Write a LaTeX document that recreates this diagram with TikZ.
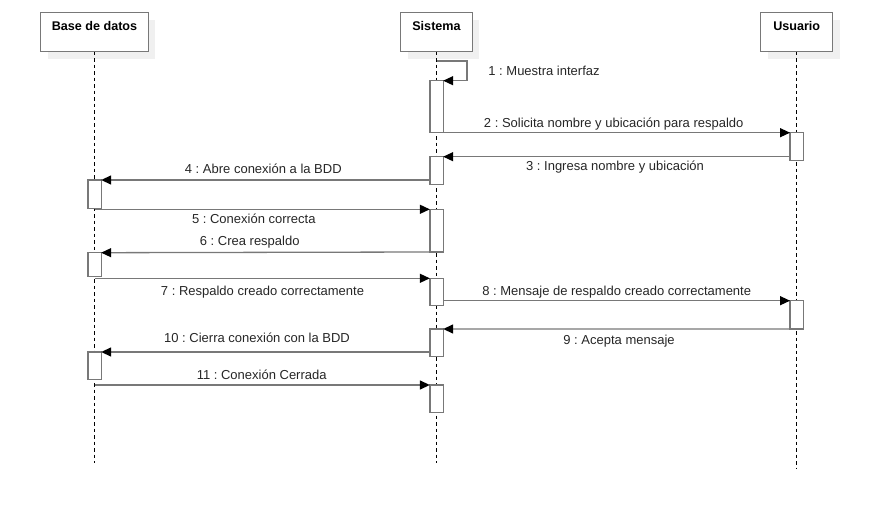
\documentclass[tikz,border=0pt]{standalone}
\usepackage{fontspec}
\setmainfont{Liberation Sans}
\usetikzlibrary{arrows.meta,shadows}
\definecolor{linegray}{RGB}{120,120,120}
\definecolor{shadegray}{RGB}{240,240,240}
\frenchspacing
\begin{document}
\begin{tikzpicture}[x=1pt,y=-1pt,
  font=\fontsize{13}{15}\selectfont,
  hdr/.style={draw=linegray, line width=1.3pt, fill=white, font=\fontsize{12.6}{14}\selectfont\bfseries,
    inner xsep=0pt, inner ysep=0pt, outer sep=0pt, text height=17.3pt, text depth=21.7pt,
    drop shadow={shadow xshift=7pt, shadow yshift=-7pt, fill=shadegray, draw=none, opacity=1}},
  life/.style={draw=black, line width=1pt, dash pattern=on 3.5pt off 3pt},
  bar/.style={draw=linegray, line width=1.3pt, fill=white, minimum width=13.3pt,
    inner sep=0pt, outer sep=0pt, anchor=north},
  msg/.style={draw=linegray, line width=1.3pt,
    -{Triangle[length=10pt,width=9pt,color=black,fill=black]}},
  lbl/.style={anchor=base, inner sep=0pt, text=black!85}
]
\useasboundingbox (0,0) rectangle (881,514);

% participants
\node[hdr, minimum width=107.6pt] (bdd) at (94.5,32.2) {Base de datos};
\node[hdr, minimum width=71.6pt]  (sis) at (436.5,32.2) {Sistema};
\node[hdr, minimum width=72pt]    (usr) at (796.7,32.2) {Usuario};

% lifelines
\coordinate (bddEnd) at (94.5,463.3);
\coordinate (sisEnd) at (436.5,463.3);
\coordinate (usrEnd) at (796.7,468.3);
\draw[life] (bdd) -- (bddEnd);
\draw[life] (sis) -- (sisEnd);
\draw[life] (usr) -- (usrEnd);

% activation bars: Sistema
\node[bar, minimum height=52pt]   (sA) at (436.5,80.7)  {};
\node[bar, minimum height=28pt]   (sB) at (436.5,156.7) {};
\node[bar, minimum height=42.7pt] (sC) at (436.5,209.3) {};
\node[bar, minimum height=27pt]   (sD) at (436.5,278.3) {};
\node[bar, minimum height=27.7pt] (sE) at (436.5,329)   {};
\node[bar, minimum height=27.7pt] (sF) at (436.5,385)   {};
% activation bars: Usuario
\node[bar, minimum height=28pt]   (uA) at (796.7,132.7) {};
\node[bar, minimum height=28.3pt] (uB) at (796.7,300.7) {};
% activation bars: Base de datos
\node[bar, minimum height=28.3pt] (dA) at (94.5,180)   {};
\node[bar, minimum height=24pt]   (dB) at (94.5,252.7) {};
\node[bar, minimum height=27.5pt] (dC) at (94.5,352)   {};

% messages
\coordinate (m1) at (436.5,61);
\draw[msg] (m1) -- ++(30.5,0) |- (sA.north east);
\draw[msg] (sA.south east) -- (uA.north west);
\draw[msg] (uA.west |- sB.north) -- (sB.north east);
\draw[msg] (sB.west |- dA.north) -- (dA.north east);
\coordinate (m5) at (94.5,209.3);
\draw[msg] (m5) -- (sC.north west);
\draw[msg] (sC.south west) -- (dB.north east);
\coordinate (m7) at (94.5,278.3);
\draw[msg] (m7) -- (sD.north west);
\draw[msg] (sD.east |- uB.north) -- (uB.north west);
\draw[msg] (uB.south west) -- (sE.north east);
\draw[msg] (sE.west |- dC.north) -- (dC.north east);
\coordinate (m11) at (94.5,385);
\draw[msg] (m11) -- (sF.north west);

% message labels
\node[lbl] (t1)  at (544,75)      {1 : Muestra interfaz};
\node[lbl] (t2)  at (613.7,127.3) {2 : Solicita nombre y ubicación para respaldo};
\node[lbl] (t3)  at (615,170.7)   {3 : Ingresa nombre y ubicación};
\node[lbl] (t4)  at (263.3,173.3) {4 : Abre conexión a la BDD};
\node[lbl] (t5)  at (253.8,223.3) {5 : Conexión correcta};
\node[lbl] (t6)  at (249.7,245.7) {6 : Crea respaldo};
\node[lbl] (t7)  at (262.5,295)   {7 : Respaldo creado correctamente};
\node[lbl] (t8)  at (616.7,295)   {8 : Mensaje de respaldo creado correctamente};
\node[lbl] (t9)  at (619,344)     {9 : Acepta mensaje};
\node[lbl] (t10) at (257,342.3)   {10 : Cierra conexión con la BDD};
\node[lbl] (t11) at (261.7,379)   {11 : Conexión Cerrada};
\end{tikzpicture}
\end{document}
